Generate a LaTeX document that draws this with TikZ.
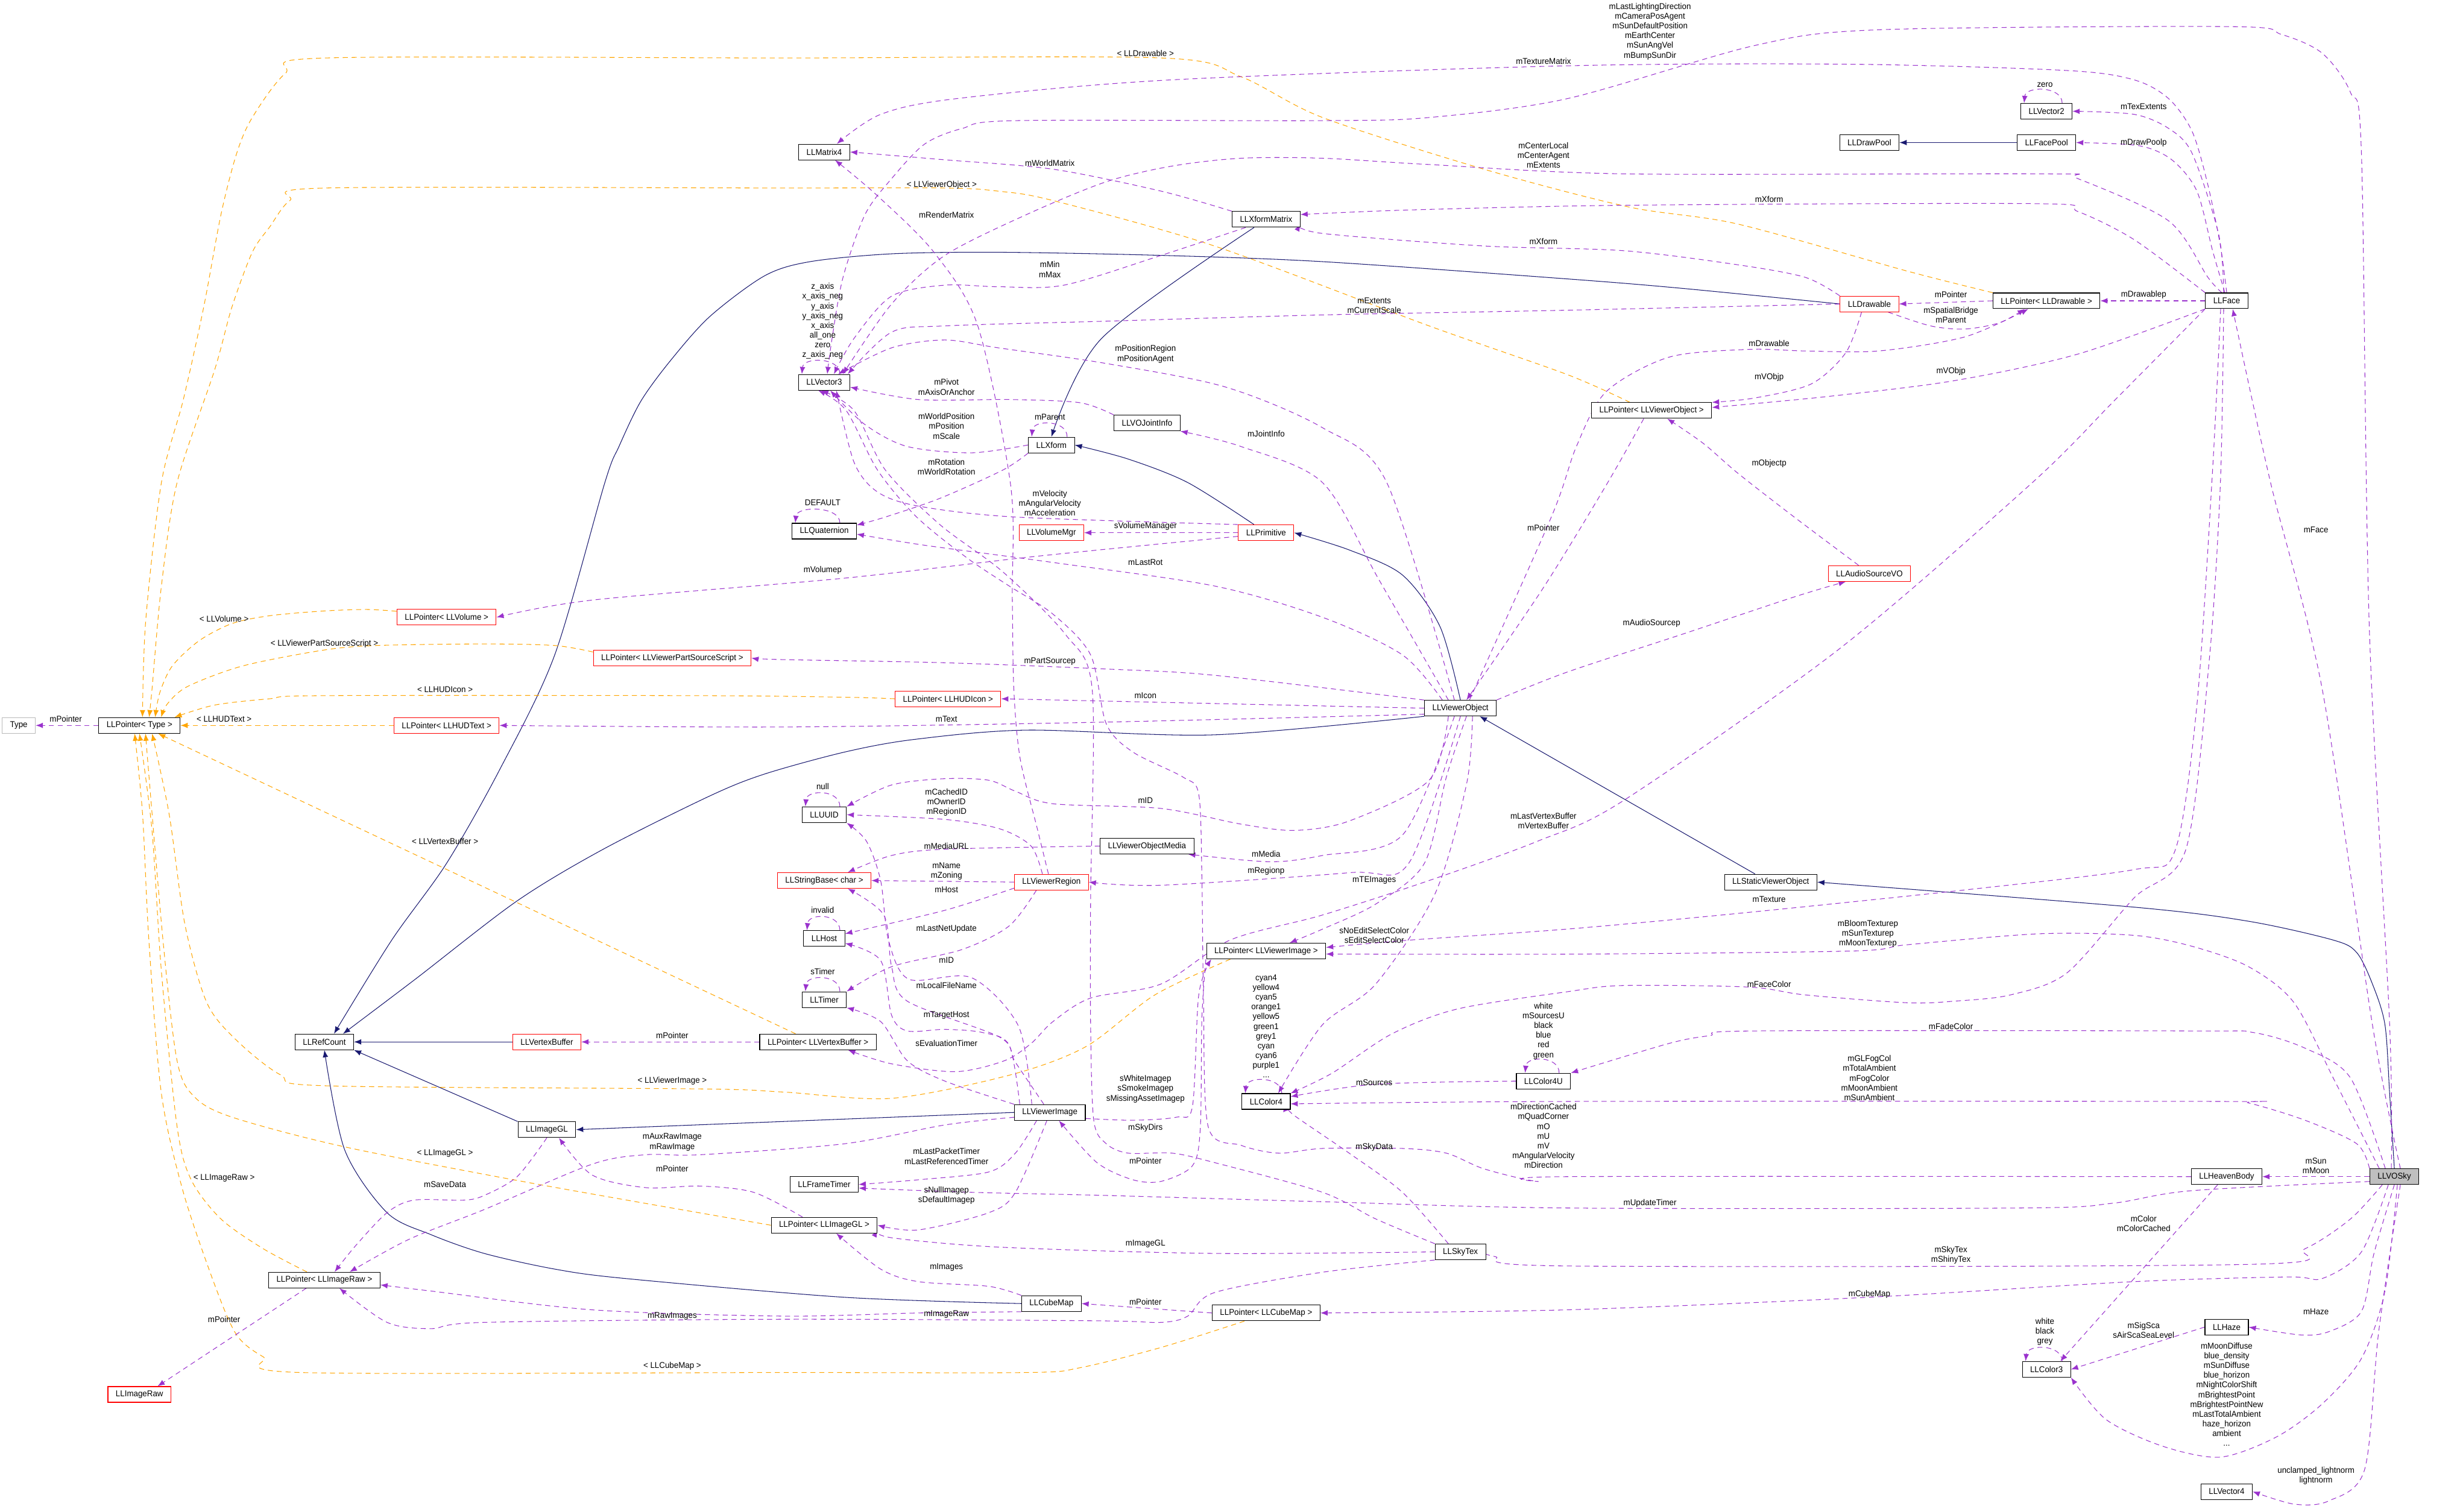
\documentclass[tikz,border=0pt]{standalone}
\usepackage{fontspec}
\setmainfont{Liberation Sans}[FakeStretch=0.95]
\usetikzlibrary{arrows.meta,backgrounds}

\definecolor{usecol}{HTML}{9A32CD}
\definecolor{inhcol}{HTML}{191970}
\definecolor{tplcol}{HTML}{FFA500}

\begin{document}
\begin{tikzpicture}[
  x=0.026cm, y=0.026cm,
  font=\fontsize{4}{4.6}\selectfont,
  box/.style={draw, line width=0.3pt, fill=white, inner xsep=0.13cm, inner ysep=0pt,
    minimum height=0.26cm},
  redbox/.style={box, draw=red},
  greybox/.style={box, draw=gray!55},
  skybox/.style={box, fill=gray!50},
  lbl/.style={align=center, inner sep=0pt},
  uses/.style={draw=usecol, line width=0.3pt, dash pattern=on 2.4pt off 1.8pt,
    -{Latex[length=3.4pt,width=2.6pt]}},
  inh/.style={draw=inhcol, line width=0.3pt, -{Latex[length=3.4pt,width=2.6pt]}},
  tpl/.style={draw=tplcol, line width=0.3pt, dash pattern=on 2.4pt off 1.8pt,
    -{Latex[length=3.4pt,width=2.6pt]}}
]
\useasboundingbox (0,0) rectangle (1568,-965);

% Class boxes
\node[box] (mat4) at (526,-97) {LLMatrix4};
\node[box] (xfm) at (808,-140) {LLXformMatrix};
\node[box] (vec2) at (1306,-71) {LLVector2};
\node[box] (drawpool) at (1193,-91) {LLDrawPool};
\node[box] (facepool) at (1306,-91) {LLFacePool};
\node[redbox] (drawable) at (1193,-194) {LLDrawable};
\node[box] (pdrawable) at (1306,-192) {LLPointer< LLDrawable >};
\node[box] (face) at (1421,-192) {LLFace};
\node[box] (vec3) at (526,-244) {LLVector3};
\node[box] (joint) at (732,-270) {LLVOJointInfo};
\node[box] (xform) at (671,-284) {LLXform};
\node[box] (pvobj) at (1054,-262) {LLPointer< LLViewerObject >};
\node[box] (quat) at (526,-339) {LLQuaternion};
\node[redbox] (volmgr) at (671,-340) {LLVolumeMgr};
\node[redbox] (prim) at (808,-340) {LLPrimitive};
\node[redbox] (audio) at (1193,-366) {LLAudioSourceVO};
\node[redbox] (pvolume) at (285,-394) {LLPointer< LLVolume >};
\node[redbox] (ppart) at (429,-420) {LLPointer< LLViewerPartSourceScript >};
\node[redbox] (picon) at (605,-446) {LLPointer< LLHUDIcon >};
\node[box] (vobj) at (932,-452) {LLViewerObject};
\node[greybox] (type) at (12,-463) {Type};
\node[box] (ptype) at (89,-463) {LLPointer< Type >};
\node[redbox] (ptext) at (285,-463) {LLPointer< LLHUDText >};
\node[box] (uuid) at (526,-520) {LLUUID};
\node[box] (media) at (732,-540) {LLViewerObjectMedia};
\node[redbox] (strbase) at (526,-562) {LLStringBase< char >};
\node[redbox] (region) at (671,-563) {LLViewerRegion};
\node[box] (svo) at (1130,-563) {LLStaticViewerObject};
\node[box] (host) at (526,-599) {LLHost};
\node[box] (pimage) at (808,-607) {LLPointer< LLViewerImage >};
\node[box] (timer) at (526,-638) {LLTimer};
\node[box] (refcount) at (207,-665) {LLRefCount};
\node[redbox] (vbuf) at (349,-665) {LLVertexBuffer};
\node[box] (pvbuf) at (522,-665) {LLPointer< LLVertexBuffer >};
\node[box] (color4u) at (985,-690) {LLColor4U};
\node[box] (imagegl) at (349,-721) {LLImageGL};
\node[box] (vimage) at (670,-710) {LLViewerImage};
\node[box] (color4) at (808,-703) {LLColor4};
\node[box] (frametimer) at (526,-756) {LLFrameTimer};
\node[box] (heaven) at (1421,-751) {LLHeavenBody};
\node[skybox] (vosky) at (1528,-751) {LLVOSky};
\node[box] (pimagegl) at (526,-782) {LLPointer< LLImageGL >};
\node[box] (skytex) at (932,-799) {LLSkyTex};
\node[box] (praw) at (207,-817) {LLPointer< LLImageRaw >};
\node[box] (cubemap) at (671,-832) {LLCubeMap};
\node[box] (pcubemap) at (808,-838) {LLPointer< LLCubeMap >};
\node[box] (haze) at (1421,-847) {LLHaze};
\node[box] (color3) at (1306,-874) {LLColor3};
\node[redbox] (imageraw) at (89,-890) {LLImageRaw};
\node[box] (vec4) at (1421,-952) {LLVector4};

\begin{scope}[on background layer]
% Inheritance
\draw[inh] (facepool.west) -- (drawpool.east);
\draw[inh] plot[smooth] coordinates {(drawable.west) (1073,-184) (1000,-178) (844,-167) (741,-163) (637,-161) (569,-162) (517,-167) (488,-176) (453,-202) (428,-230) (409,-256) (395,-285) (386,-308) (354,-418) (319,-491) (285,-551) (250,-600) ([xshift=0.16cm]refcount.north)};
\draw[inh] plot[smooth] coordinates {(vobj.south west) (775,-469) (655,-466) (583,-472) (539,-480) (488,-494) (453,-508) (385,-542) (330,-575) (265,-625) ([xshift=0.31cm]refcount.north)};
\draw[inh] (imagegl.north west) -- (refcount.south east);
\draw[inh] (vbuf.west) -- (refcount.east);
\draw[inh] plot[smooth] coordinates {(cubemap.west) (539,-828) (399,-816) (354,-810) (309,-800) (275,-788) (247,-774) (220,-734) (refcount.south)};
\draw[inh] (vimage.west) -- (imagegl.east);
\draw[inh] plot[smooth] coordinates {([xshift=-0.2cm]xfm.south) (703,-216) (xform.north)};
\draw[inh] plot[smooth] coordinates {([xshift=-0.2cm]prim.north) (758,-308) (720,-293) (xform.east)};
\draw[inh] plot[smooth] coordinates {(vobj.north) (919,-400) (895,-367) (861,-351) (prim.east)};
\draw[inh] ([xshift=-0.26cm]svo.north) -- ([xshift=-0.28cm]vobj.south east);
\draw[inh] plot[smooth] coordinates {(vosky.north) (1525,-698) (1522,-654) (1514,-628) (1504,-608) (1489,-600) (1435,-588) (1362,-579) (svo.east)};

% Template instances
\draw[tpl] plot[smooth] coordinates {(pdrawable.north west) (1217,-173) (1109,-143) (1039,-132) (947,-108) (844,-75) (792,-49) (741,-37) (500,-37) (208,-37) (182,-47) (161,-75) (151,-98) (141,-137) (130,-196) (117,-255) (103,-308) (93,-396) ([xshift=0.05cm]ptype.north)};
\draw[tpl] plot[smooth] coordinates {([xshift=-0.36cm]pvobj.north) (1000,-239) (912,-208) (775,-157) (672,-128) (637,-122) (603,-120) (500,-120) (208,-120) (185,-128) (172,-145) (161,-161) (148,-196) (137,-236) (113,-308) (103,-374) (97,-440) ([xshift=0.16cm]ptype.north)};
\draw[tpl] plot[smooth] coordinates {([yshift=0.1cm]pvolume.west) (234,-389) (206,-390) (172,-393) (148,-398) (127,-409) (110,-425) (102,-442) ([xshift=0.26cm]ptype.north)};
\draw[tpl] plot[smooth] coordinates {([yshift=0.1cm]ppart.west) (354,-412) (309,-411) (240,-412) (206,-415) (155,-425) (120,-438) (107,-449) ([xshift=0.36cm]ptype.north)};
\draw[tpl] plot[smooth] coordinates {(picon.west) (539,-445) (447,-444) (206,-444) (172,-446) (137,-450) ([xshift=-0.1cm]ptype.north east)};
\draw[tpl] (ptext.west) -- (ptype.east);
\draw[tpl] ([xshift=0.6cm]pvbuf.north west) -- ([xshift=0.31cm]ptype.south);
\draw[tpl] plot[smooth] coordinates {([xshift=0.4cm]pimage.south west) (737,-635) (693,-668) (645,-686) (569,-701) (500,-697) (447,-695) (208,-693) (179,-686) (151,-664) (132,-640) (118,-590) (108,-520) ([xshift=0.21cm]ptype.south)};
\draw[tpl] plot[smooth] coordinates {(pimagegl.west) (344,-756) (220,-732) (148,-713) (124,-700) (113,-677) (104,-600) ([xshift=0.1cm]ptype.south)};
\draw[tpl] plot[smooth] coordinates {([xshift=-0.29cm]praw.north) (168,-797) (141,-778) (122,-753) (113,-719) (103,-620) (97,-530) (ptype.south)};
\draw[tpl] plot[smooth] coordinates {([xshift=-0.36cm]pcubemap.south) (741,-860) (689,-873) (655,-876) (500,-876) (192,-876) (168,-866) (151,-852) (137,-820) (117,-761) (103,-698) (95,-600) (91,-520) ([xshift=-0.08cm]ptype.south)};

% Usage: top half
\draw[uses] (ptype.west) -- (type.east);
\draw[uses] plot[smooth] coordinates {(face.north) (1417,-157) (1409,-118) (1399,-84) (1384,-63) (1362,-51) (1319,-45) (1181,-41) (1000,-42) (747,-51) (610,-63) (562,-73) ([xshift=0.21cm]mat4.north)};
\draw[uses] plot[smooth] coordinates {(xfm.north west) (741,-122) (672,-108) (603,-102) (mat4.east)};
\draw[uses] plot[smooth] coordinates {([xshift=-0.05cm]region.north) (662,-529) (651,-484) (647,-440) (646,-380) (645,-310) (624,-208) (596,-161) (560,-125) ([xshift=0.18cm]mat4.south)};
\draw[uses] plot[smooth] coordinates {([xshift=-0.05cm]face.north) (1416,-150) (1399,-98) (1384,-82) (1362,-73) (vec2.east)};
\draw[uses] plot[smooth] coordinates {([xshift=-0.03cm]face.north) (1412,-160) (1402,-122) (1386,-102) (1365,-93) (facepool.east)};
\draw[uses] (face.west) -- (pdrawable.east);
\draw[uses] (pdrawable.west) -- (drawable.east);
\draw[uses] plot[smooth] coordinates {([xshift=0.31cm]drawable.south) (1232,-208) (1254,-210) (1276,-206) ([xshift=-0.36cm]pdrawable.south)};
\draw[uses] plot[smooth] coordinates {(face.north west) (1362,-153) (1326,-135) (1300,-130) (1039,-131) (900,-134) ([yshift=0.08cm]xfm.east)};
\draw[uses] plot[smooth] coordinates {(drawable.north west) (1152,-177) (1109,-169) (1036,-160) (947,-157) (844,-149) ([yshift=-0.08cm]xfm.east)};
\draw[uses] plot[smooth] coordinates {([xshift=-0.08cm]face.north) (1409,-177) (1384,-141) (1326,-114) (1308,-111) (1039,-111) (912,-105) (844,-101) (792,-101) (748,-106) (706,-116) (655,-137) (603,-163) (569,-194) ([xshift=0.31cm]vec3.north)};
\draw[uses] plot[smooth] coordinates {(drawable.west) (1000,-198) (844,-201) (706,-205) (603,-208) (569,-212) ([xshift=0.39cm]vec3.north)};
\draw[uses] plot[smooth] coordinates {([xshift=-0.34cm]xfm.south) (741,-163) (679,-182) (637,-183) (603,-182) (569,-189) (545,-216) ([xshift=0.16cm]vec3.north)};
\draw[uses] plot[smooth] coordinates {([xshift=-0.1cm]vobj.north) (885,-308) (844,-273) (782,-247) (706,-232) (637,-222) (603,-217) (569,-222) ([xshift=0.23cm]vec3.north)};
\draw[uses] plot[smooth] coordinates {(joint.north west) (689,-257) (644,-255) (586,-255) ([yshift=-0.08cm]vec3.east)};
\draw[uses] plot[smooth] coordinates {(xform.west) (620,-289) (579,-285) (552,-271) ([xshift=0.1cm]vec3.south)};
\draw[uses] plot[smooth] coordinates {(prim.north west) (648,-330) (586,-323) (560,-314) (545,-295) ([xshift=0.2cm]vec3.south)};
\draw[uses] plot[smooth] coordinates {(xform.south west) (640,-300) (600,-318) (565,-330) ([yshift=0.1cm]quat.east)};
\draw[uses] plot[smooth] coordinates {([xshift=-0.3cm]vobj.north) (895,-418) (844,-394) (775,-374) (672,-359) (590,-348) ([yshift=-0.05cm]quat.east)};
\draw[uses] (prim.west) -- (volmgr.east);
\draw[uses] plot[smooth] coordinates {([yshift=-0.06cm]prim.west) (662,-355) (539,-369) (378,-383) (pvolume.east)};
\draw[uses] plot[smooth] coordinates {([xshift=-0.13cm]pvobj.south) (1026,-308) (985,-375) ([xshift=0.1cm]vobj.north)};
\draw[uses] plot[smooth] coordinates {([xshift=-0.18cm]audio.north) (1145,-330) (1109,-302) (1087,-283) ([xshift=0.26cm]pvobj.south)};
\draw[uses] plot[smooth] coordinates {(vobj.north east) (1000,-429) (1073,-405) (1145,-381) ([xshift=-0.39cm]audio.south)};
\draw[uses] plot[smooth] coordinates {([xshift=-0.13cm]drawable.south) (1178,-225) (1156,-245) (1120,-254) (pvobj.north east)};
\draw[uses] plot[smooth] coordinates {(face.south west) (1326,-226) (1247,-243) (1167,-253) ([yshift=0.05cm]pvobj.east)};
\draw[uses] plot[smooth] coordinates {([xshift=0.15cm]vobj.north) (990,-330) (1006,-285) (1025,-250) (1065,-228) (1116,-223) (1152,-224) (1199,-224) (1254,-215) ([xshift=-0.3cm]pdrawable.south)};
\draw[uses] plot[smooth] coordinates {([xshift=-0.2cm]vobj.north) (880,-370) (844,-308) (792,-285) (joint.south east)};
\draw[uses] plot[smooth] coordinates {(vobj.north west) (775,-431) (706,-427) (603,-423) (500,-421) (ppart.east)};
\draw[uses] (vobj.west) -- (picon.east);
\draw[uses] plot[smooth] coordinates {([yshift=-0.1cm]vobj.west) (700,-461) (500,-464) (ptext.east)};

% Usage: from LLViewerObject downwards
\draw[uses] plot[smooth] coordinates {([xshift=-0.2cm]vobj.south) (912,-498) (861,-524) (826,-530) (792,-526) (741,-516) (672,-513) (648,-505) (631,-498) (603,-497) (569,-501) (uuid.north east)};
\draw[uses] plot[smooth] coordinates {([xshift=-0.1cm]vobj.south) (895,-533) (844,-546) (810,-550) ([xshift=-0.1cm]media.south east)};
\draw[uses] plot[smooth] coordinates {(vobj.south) (899,-551) (861,-557) (741,-565) (region.east)};
\draw[uses] plot[smooth] coordinates {([xshift=0.1cm]vobj.south) (923,-496) (909,-551) (878,-577) (844,-593) ([xshift=0.39cm]pimage.north)};
\draw[uses] plot[smooth] coordinates {([xshift=0.2cm]vobj.south) (936,-500) (916,-570) (878,-628) (844,-654) ([xshift=0.2cm]color4.north)};

% Usage: from LLFace downwards
\draw[uses] plot[smooth] coordinates {(face.south west) (1350,-255) (1297,-308) (1174,-414) (1036,-511) (981,-537) (912,-562) (844,-584) (785,-600) (741,-628) (696,-637) (672,-652) (658,-666) (641,-677) (610,-684) (569,-679) ([xshift=0.5cm]pvbuf.south)};
\draw[uses] plot[smooth] coordinates {([xshift=-0.1cm]face.south) (1412,-300) (1402,-450) (1388,-543) (1362,-555) (1254,-568) (1109,-583) (1000,-593) (900,-600) ([yshift=0.06cm]pimage.east)};
\draw[uses] plot[smooth] coordinates {([xshift=-0.05cm]face.south) (1417,-308) (1410,-420) (1395,-542) (1362,-573) (1319,-621) (1283,-635) (1247,-639) (1217,-640) (1152,-635) (1116,-630) (1036,-629) (1000,-633) (930,-644) (888,-660) (850,-685) (color4.north east)};

% Usage: from LLVOSky
\draw[uses] plot[smooth] coordinates {([xshift=0.1cm]vosky.north) (1514,-654) (1482,-440) (1449,-308) ([xshift=0.1cm]face.south)};
\draw[uses] plot[smooth] coordinates {([xshift=-0.05cm]vosky.north) (1525,-654) (1512,-400) (1507,-98) (1500,-59) (1482,-34) (1456,-22) (1424,-17) (1199,-19) (1120,-29) (1000,-63) (912,-75) (844,-77) (648,-77) (614,-82) (590,-92) (569,-114) (552,-137) (538,-177) (531,-216) ([xshift=0.05cm]vec3.north)};
\draw[uses] (vosky.west) -- (heaven.east);
\draw[uses] plot[smooth] coordinates {([yshift=-0.08cm]vosky.west) (1398,-760) (1348,-768) (1290,-771) (1000,-771) (844,-767) (706,-763) (620,-761) ([yshift=-0.06cm]frametimer.east)};
\draw[uses] plot[smooth] coordinates {([xshift=-0.2cm]vosky.south) (1500,-778) (1471,-797) (1435,-807) (1000,-808) (954,-802) (skytex.east)};
\draw[uses] plot[smooth] coordinates {([xshift=-0.1cm]vosky.south) (1507,-799) (1482,-816) (1460,-815) (1362,-818) (1192,-828) (1000,-836) (pcubemap.east)};
\draw[uses] plot[smooth] coordinates {(vosky.south) (1515,-800) (1507,-837) (1486,-850) (1468,-852) (haze.east)};
\draw[uses] plot[smooth] coordinates {([xshift=0.05cm]vosky.south) (1522,-824) (1507,-867) (1482,-896) (1453,-917) (1417,-930) (1380,-923) (1344,-906) (color3.south east)};
\draw[uses] plot[smooth] coordinates {([xshift=0.1cm]vosky.south) (1518,-850) (1509,-938) (1486,-958) (1464,-960) (vec4.east)};
\draw[uses] plot[smooth] coordinates {(vosky.north west) (1504,-730) (1471,-715) (1435,-704) (1417,-703) (1000,-703) ([yshift=-0.04cm]color4.east)};
\draw[uses] plot[smooth] coordinates {([xshift=-0.15cm]vosky.north) (1500,-688) (1471,-669) (1438,-659) (1399,-658) (1120,-658) (1091,-661) (1065,-666) (color4u.north east)};
\draw[uses] plot[smooth] coordinates {([xshift=-0.25cm]vosky.north) (1490,-690) (1464,-640) (1435,-617) (1399,-604) (1362,-597) (1301,-596) (1217,-603) (1181,-607) (1000,-609) ([yshift=-0.05cm]pimage.east)};
\draw[uses] ([xshift=-0.15cm]heaven.south) -- ([xshift=0.23cm]color3.north);
\draw[uses] (haze.west) -- (color3.east);
\draw[uses] plot[smooth] coordinates {(heaven.west) (1000,-751) (981,-754) (947,-746) (923,-736) (895,-733) (844,-733) (816,-736) (792,-731) (771,-719) (768,-635) (767,-560) (765,-507) (755,-496) (723,-480) (706,-462) (696,-418) (672,-392) (644,-374) (617,-356) (585,-330) (560,-300) (540,-262) ([xshift=-0.1cm]vec3.south)};

% Usage: lower middle
\draw[uses] plot[smooth] coordinates {(skytex.north west) (878,-778) (844,-761) (775,-742) (748,-736) (720,-736) (706,-730) (698,-715) (696,-654) (696,-573) (697,-440) (680,-405) (640,-365) (600,-335) (565,-300) (545,-262) ([xshift=-0.05cm]vec3.south)};
\draw[uses] plot[smooth] coordinates {([yshift=-0.1cm]vimage.east) (723,-715) (751,-713) (761,-706) (765,-635) ([xshift=-0.91cm]pimage.south)};
\draw[uses] plot[smooth] coordinates {([xshift=-1.0cm]pimage.south) (767,-650) (766,-720) (761,-744) (741,-754) (723,-753) (700,-742) ([xshift=0.15cm]vimage.south)};
\draw[uses] plot[smooth] coordinates {([xshift=-0.05cm]vimage.south) (648,-761) (631,-774) (586,-785) (pimagegl.east)};
\draw[uses] plot[smooth] coordinates {([xshift=-0.22cm]vimage.south) (648,-736) (631,-748) (586,-753) (frametimer.east)};
\draw[uses] plot[smooth] coordinates {([yshift=-0.08cm]vimage.west) (603,-718) (539,-730) (447,-737) (412,-737) (378,-743) (309,-772) (261,-791) ([xshift=0.42cm]praw.north)};
\draw[uses] plot[smooth] coordinates {([xshift=-0.15cm]region.north) (658,-540) (638,-529) (603,-523) (uuid.east)};
\draw[uses] plot[smooth] coordinates {(media.west) (603,-542) (569,-546) ([xshift=0.39cm]strbase.north)};
\draw[uses] (region.west) -- (strbase.east);
\draw[uses] plot[smooth] coordinates {([yshift=-0.1cm]region.west) (603,-581) ([yshift=0.08cm]host.east)};
\draw[uses] plot[smooth] coordinates {([xshift=-0.25cm]region.south) (644,-591) (614,-606) (569,-617) (timer.north east)};
\draw[uses] plot[smooth] coordinates {([xshift=-0.3cm]vimage.north) (650,-655) (620,-624) (580,-625) (567,-600) (562,-562) (553,-537) (uuid.south east)};
\draw[uses] plot[smooth] coordinates {([xshift=-0.1cm]vimage.north) (648,-678) (638,-662) (579,-639) (569,-617) (564,-584) ([xshift=0.39cm]strbase.south)};
\draw[uses] plot[smooth] coordinates {([xshift=-0.5cm]vimage.north) (644,-667) (627,-659) (603,-657) (579,-658) (569,-648) (562,-613) ([yshift=-0.08cm]host.east)};
\draw[uses] plot[smooth] coordinates {(vimage.north west) (603,-690) (579,-677) (562,-652) (timer.south east)};
\draw[uses] plot[smooth] coordinates {(color4u.west) (878,-692) ([yshift=0.08cm]color4.east)};
\draw[uses] plot[smooth] coordinates {([xshift=-0.2cm]skytex.north) (895,-761) (861,-736) (826,-712) (color4.south east)};
\draw[uses] plot[smooth] coordinates {(skytex.west) (775,-800) (638,-796) (569,-790) ([yshift=-0.08cm]pimagegl.east)};
\draw[uses] plot[smooth] coordinates {(cubemap.north west) (631,-821) (586,-818) (562,-810) ([xshift=0.2cm]pimagegl.south)};
\draw[uses] (pcubemap.west) -- (cubemap.east);
\draw[uses] plot[smooth] coordinates {(cubemap.south west) (586,-838) (500,-840) (378,-836) (275,-824) ([yshift=-0.08cm]praw.east)};
\draw[uses] plot[smooth] coordinates {(skytex.south west) (844,-812) (775,-825) (758,-840) (741,-844) (700,-843) (500,-842) (309,-844) (275,-848) (247,-844) ([xshift=0.25cm]praw.south)};
\draw[uses] ([xshift=-0.3cm]praw.south) -- ([xshift=0.3cm]imageraw.north);
\draw[uses] plot[smooth] coordinates {(imagegl.south) (330,-751) (309,-763) (296,-766) (264,-766) (247,-774) (227,-795) ([xshift=0.17cm]praw.north)};
\draw[uses] plot[smooth] coordinates {([xshift=-0.36cm]pimagegl.north) (481,-761) (447,-757) (412,-758) (378,-750) ([xshift=0.2cm]imagegl.south)};
\draw[uses] (pvbuf.west) -- (vbuf.east);

% Self references
\draw[uses] ([xshift=0.26cm]vec3.north) .. controls +(0,11) and +(1,11) .. ([xshift=0.06cm]vec3.north west);
\draw[uses] ([xshift=0.26cm]vec2.north) .. controls +(0,11) and +(1,11) .. ([xshift=0.06cm]vec2.north west);
\draw[uses] ([xshift=0.26cm]quat.north) .. controls +(0,11) and +(1,11) .. ([xshift=0.06cm]quat.north west);
\draw[uses] ([xshift=0.26cm]xform.north) .. controls +(0,11) and +(1,11) .. ([xshift=0.06cm]xform.north west);
\draw[uses] ([xshift=0.26cm]uuid.north) .. controls +(0,11) and +(1,11) .. ([xshift=0.06cm]uuid.north west);
\draw[uses] ([xshift=0.26cm]host.north) .. controls +(0,11) and +(1,11) .. ([xshift=0.06cm]host.north west);
\draw[uses] ([xshift=0.26cm]timer.north) .. controls +(0,11) and +(1,11) .. ([xshift=0.06cm]timer.north west);
\draw[uses] ([xshift=0.26cm]color4.north) .. controls +(0,11) and +(1,11) .. ([xshift=0.06cm]color4.north west);
\draw[uses] ([xshift=0.26cm]color4u.north) .. controls +(0,11) and +(1,11) .. ([xshift=0.15cm]color4u.north west);
\draw[uses] ([xshift=0.26cm]color3.north) .. controls +(0,11) and +(1,11) .. ([xshift=0.06cm]color3.north west);
\end{scope}

% Edge labels
\node[lbl] (lb1) at (731,-34) {< LLDrawable >};
\node[lbl] (lb2) at (601,-118) {< LLViewerObject >};
\node[lbl] (lb3) at (985,-39) {mTextureMatrix};
\node[lbl] (lb4) at (1053,-20) {mLastLightingDirection\\mCameraPosAgent\\mSunDefaultPosition\\mEarthCenter\\mSunAngVel\\mBumpSunDir};
\node[lbl] (lb5) at (1305,-54) {zero};
\node[lbl] (lb6) at (1368,-68) {mTexExtents};
\node[lbl] (lb7) at (1368,-91) {mDrawPoolp};
\node[lbl] (lb8) at (985,-99) {mCenterLocal\\mCenterAgent\\mExtents};
\node[lbl] (lb9) at (670,-104) {mWorldMatrix};
\node[lbl] (lb10) at (604,-137) {mRenderMatrix};
\node[lbl] (lb11) at (1129,-127) {mXform};
\node[lbl] (lb12) at (985,-154) {mXform};
\node[lbl] (lb13) at (670,-172) {mMin\\mMax};
\node[lbl] (lb14) at (525,-205) {z\_axis\\x\_axis\_neg\\y\_axis\\y\_axis\_neg\\x\_axis\\all\_one\\zero\\z\_axis\_neg};
\node[lbl] (lb15) at (1245,-188) {mPointer};
\node[lbl] (lb16) at (1368,-188) {mDrawablep};
\node[lbl] (lb17) at (877,-195) {mExtents\\mCurrentScale};
\node[lbl] (lb18) at (1245,-201) {mSpatialBridge\\mParent};
\node[lbl] (lb19) at (1129,-219) {mDrawable};
\node[lbl] (lb20) at (731,-226) {mPositionRegion\\mPositionAgent};
\node[lbl] (lb21) at (1129,-241) {mVObjp};
\node[lbl] (lb22) at (1245,-237) {mVObjp};
\node[lbl] (lb23) at (604,-247) {mPivot\\mAxisOrAnchor};
\node[lbl] (lb24) at (670,-266) {mParent};
\node[lbl] (lb25) at (604,-272) {mWorldPosition\\mPosition\\mScale};
\node[lbl] (lb26) at (808,-277) {mJointInfo};
\node[lbl] (lb27) at (1129,-296) {mObjectp};
\node[lbl] (lb28) at (604,-298) {mRotation\\mWorldRotation};
\node[lbl] (lb29) at (525,-321) {DEFAULT};
\node[lbl] (lb30) at (670,-321) {mVelocity\\mAngularVelocity\\mAcceleration};
\node[lbl] (lb31) at (985,-337) {mPointer};
\node[lbl] (lb32) at (731,-336) {sVolumeManager};
\node[lbl] (lb33) at (1478,-338) {mFace};
\node[lbl] (lb34) at (731,-359) {mLastRot};
\node[lbl] (lb35) at (525,-364) {mVolumep};
\node[lbl] (lb36) at (143,-395) {< LLVolume >};
\node[lbl] (lb37) at (1054,-398) {mAudioSourcep};
\node[lbl] (lb38) at (207,-411) {< LLViewerPartSourceScript >};
\node[lbl] (lb39) at (670,-422) {mPartSourcep};
\node[lbl] (lb40) at (284,-440) {< LLHUDIcon >};
\node[lbl] (lb41) at (731,-444) {mIcon};
\node[lbl] (lb42) at (42,-459) {mPointer};
\node[lbl] (lb43) at (143,-459) {< LLHUDText >};
\node[lbl] (lb44) at (604,-459) {mText};
\node[lbl] (lb45) at (525,-502) {null};
\node[lbl] (lb46) at (604,-512) {mCachedID\\mOwnerID\\mRegionID};
\node[lbl] (lb47) at (731,-511) {mID};
\node[lbl] (lb48) at (985,-524) {mLastVertexBuffer\\mVertexBuffer};
\node[lbl] (lb49) at (284,-537) {< LLVertexBuffer >};
\node[lbl] (lb50) at (604,-540) {mMediaURL};
\node[lbl] (lb51) at (808,-545) {mMedia};
\node[lbl] (lb52) at (604,-556) {mName\\mZoning};
\node[lbl] (lb53) at (808,-556) {mRegionp};
\node[lbl] (lb54) at (877,-562) {mTEImages};
\node[lbl] (lb55) at (604,-568) {mHost};
\node[lbl] (lb56) at (1129,-574) {mTexture};
\node[lbl] (lb57) at (525,-581) {invalid};
\node[lbl] (lb58) at (604,-593) {mLastNetUpdate};
\node[lbl] (lb59) at (1192,-596) {mBloomTexturep\\mSunTexturep\\mMoonTexturep};
\node[lbl] (lb60) at (877,-597) {sNoEditSelectColor\\sEditSelectColor};
\node[lbl] (lb61) at (604,-613) {mID};
\node[lbl] (lb62) at (525,-620) {sTimer};
\node[lbl] (lb63) at (808,-655) {cyan4\\yellow4\\cyan5\\orange1\\yellow5\\green1\\grey1\\cyan\\cyan6\\purple1\\...};
\node[lbl] (lb64) at (1129,-628) {mFaceColor};
\node[lbl] (lb65) at (604,-629) {mLocalFileName};
\node[lbl] (lb66) at (985,-658) {white\\mSourcesU\\black\\blue\\red\\green};
\node[lbl] (lb67) at (604,-648) {mTargetHost};
\node[lbl] (lb68) at (1245,-655) {mFadeColor};
\node[lbl] (lb69) at (429,-661) {mPointer};
\node[lbl] (lb70) at (604,-666) {sEvaluationTimer};
\node[lbl] (lb71) at (1193,-688) {mGLFogCol\\mTotalAmbient\\mFogColor\\mMoonAmbient\\mSunAmbient};
\node[lbl] (lb72) at (429,-690) {< LLViewerImage >};
\node[lbl] (lb73) at (877,-691) {mSources};
\node[lbl] (lb74) at (731,-695) {sWhiteImagep\\sSmokeImagep\\sMissingAssetImagep};
\node[lbl] (lb75) at (731,-720) {mSkyDirs};
\node[lbl] (lb76) at (985,-725) {mDirectionCached\\mQuadCorner\\mO\\mU\\mV\\mAngularVelocity\\mDirection};
\node[lbl] (lb77) at (429,-729) {mAuxRawImage\\mRawImage};
\node[lbl] (lb78) at (877,-732) {mSkyData};
\node[lbl] (lb79) at (284,-736) {< LLImageGL >};
\node[lbl] (lb80) at (604,-738) {mLastPacketTimer\\mLastReferencedTimer};
\node[lbl] (lb81) at (731,-741) {mPointer};
\node[lbl] (lb82) at (1478,-744) {mSun\\mMoon};
\node[lbl] (lb83) at (429,-746) {mPointer};
\node[lbl] (lb84) at (143,-752) {< LLImageRaw >};
\node[lbl] (lb85) at (284,-756) {mSaveData};
\node[lbl] (lb86) at (604,-763) {sNullImagep\\sDefaultImagep};
\node[lbl] (lb87) at (1053,-768) {mUpdateTimer};
\node[lbl] (lb88) at (1368,-781) {mColor\\mColorCached};
\node[lbl] (lb89) at (731,-794) {mImageGL};
\node[lbl] (lb90) at (1245,-801) {mSkyTex\\mShinyTex};
\node[lbl] (lb91) at (604,-809) {mImages};
\node[lbl] (lb92) at (1193,-826) {mCubeMap};
\node[lbl] (lb93) at (731,-831) {mPointer};
\node[lbl] (lb94) at (1478,-837) {mHaze};
\node[lbl] (lb95) at (604,-839) {mImageRaw};
\node[lbl] (lb96) at (429,-840) {mRawImages};
\node[lbl] (lb97) at (143,-842) {mPointer};
\node[lbl] (lb98) at (1368,-849) {mSigSca\\sAirScaSeaLevel};
\node[lbl] (lb99) at (1305,-850) {white\\black\\grey};
\node[lbl] (lb100) at (429,-872) {< LLCubeMap >};
\node[lbl] (lb101) at (1421,-890) {mMoonDiffuse\\blue\_density\\mSunDiffuse\\blue\_horizon\\mNightColorShift\\mBrightestPoint\\mBrightestPointNew\\mLastTotalAmbient\\haze\_horizon\\ambient\\...};
\node[lbl] (lb102) at (1478,-942) {unclamped\_lightnorm\\lightnorm};

\end{tikzpicture}
\end{document}
